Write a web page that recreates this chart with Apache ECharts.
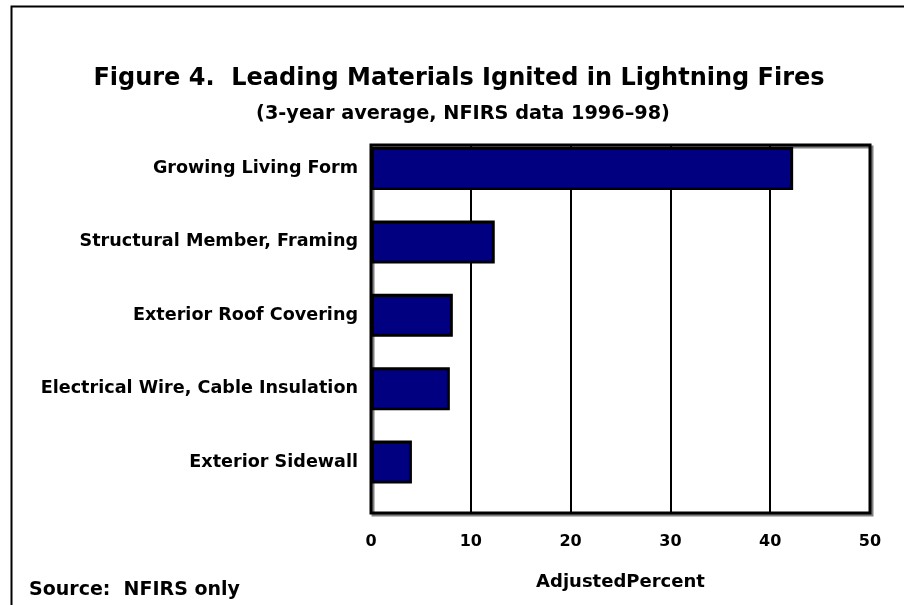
<!DOCTYPE html>
<html>
<head>
<meta charset="utf-8">
<script src="https://cdn.jsdelivr.net/npm/echarts@6/dist/echarts.min.js"></script>
<style>
html,body{margin:0;padding:0;background:#fff;}
#chart{width:904px;height:605px;}
</style>
</head>
<body>
<div id="chart"></div>
<script>
const categories = ["Growing Living Form","Structural Member, Framing","Exterior Roof Covering","Electrical Wire, Cable Insulation","Exterior Sidewall"];
const values = [42.3, 12.4, 8.2, 7.9, 4.1];
const xTicks = [0, 10, 20, 30, 40, 50];
const titleText = "Figure 4.  Leading Materials Ignited in Lightning Fires";
const subtitleText = "(3-year average, NFIRS data 1996\u201398)";
const xAxisName = "AdjustedPercent";
const sourceText = "Source:  NFIRS only";

const FONT = "DejaVu Sans, Liberation Sans, Arial, sans-serif";
const chart = echarts.init(document.getElementById('chart'));
const option = {
  backgroundColor: '#fff',
  animation: false,
  title: [
    {text: titleText, left: 454, top: 62, textAlign: 'center',
     textStyle: {fontFamily: FONT, fontWeight: 'bold', fontSize: 24, color: '#000'}},
    {text: subtitleText, left: 458, top: 99, textAlign: 'center',
     textStyle: {fontFamily: FONT, fontWeight: 'bold', fontSize: 19.3, color: '#000'}},
    {text: sourceText, left: 24, top: 576,
     textStyle: {fontFamily: FONT, fontWeight: 'bold', fontSize: 19, color: '#000'}}
  ],
  graphic: [
    {type: 'rect', left: 9, top: 4, shape: {width: 1000, height: 1000},
     style: {fill: null, stroke: '#000', lineWidth: 2}, z: -1}
  ],
  grid: [
    {left: 371, right: 34, top: 131.8, height: 367, show: false},
    {left: 371, right: 34, top: 145, height: 368, show: true, borderColor: '#000', borderWidth: 3,
     shadowColor: 'rgba(0,0,0,0.5)', shadowOffsetX: 2, shadowOffsetY: 2}
  ],
  xAxis: [
    {gridIndex: 0, type: 'value', min: 0, max: 50, interval: 10, show: false},
    {gridIndex: 1, type: 'value', min: 0, max: 50, interval: 10,
     axisLine: {show: false}, axisTick: {show: false},
     splitLine: {show: true, lineStyle: {color: '#000', width: 2}},
     axisLabel: {margin: 21, fontFamily: FONT, fontWeight: 'bold', fontSize: 16, color: '#000',
       formatter: v => xTicks.includes(v) ? String(v) : ''},
     name: xAxisName, nameLocation: 'middle', nameGap: 60,
     nameTextStyle: {fontFamily: FONT, fontWeight: 'bold', fontSize: 18, color: '#000'}}
  ],
  yAxis: [
    {gridIndex: 0, type: 'category', data: categories, inverse: true,
     axisLine: {show: false}, axisTick: {show: false}, splitLine: {show: false},
     axisLabel: {margin: 13, fontFamily: FONT, fontWeight: 'bold', fontSize: 17.6, color: '#000'}},
    {gridIndex: 1, type: 'value', min: 0, max: 1, show: false}
  ],
  series: [
    {type: 'bar', xAxisIndex: 0, yAxisIndex: 0, data: values, barWidth: 43,
     itemStyle: {color: '#000080', borderColor: '#000', borderWidth: 3}, z: 5}
  ]
};
chart.setOption(option);
</script>
</body>
</html>
